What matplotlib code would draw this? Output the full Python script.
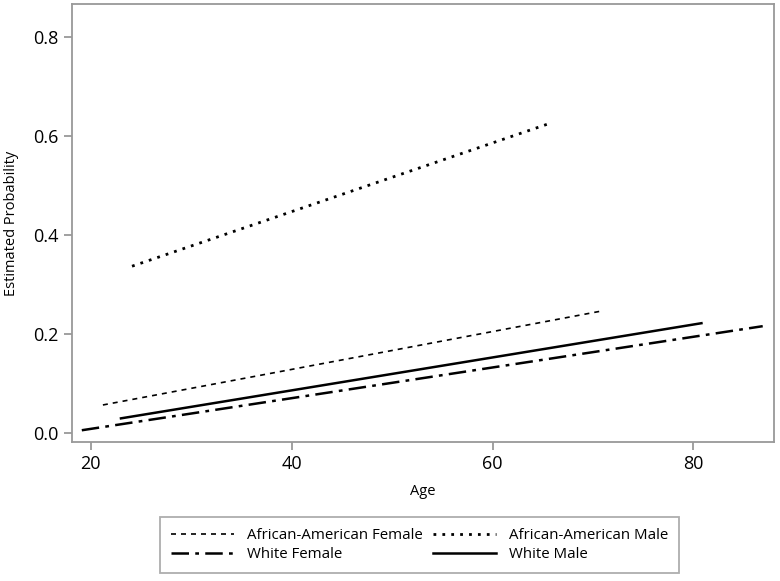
import matplotlib
matplotlib.use("Agg")
import matplotlib.pyplot as plt

# endpoints (age, estimated probability)
aa_female_age = [21.2, 70.7]
aa_female_prob = [0.057, 0.246]
aa_male_age = [24.1, 65.8]
aa_male_prob = [0.337, 0.626]
w_female_age = [19.1, 86.9]
w_female_prob = [0.006, 0.216]
w_male_age = [23.0, 80.8]
w_male_prob = [0.030, 0.222]

plt.rcParams['font.family'] = ['Open Sans', 'DejaVu Sans']

fig = plt.figure(figsize=(7.8, 5.81), dpi=100)
ax = fig.add_axes([0.092, 0.239, 0.9, 0.754])

l1, = ax.plot(aa_female_age, aa_female_prob, color='black', lw=1.2,
              linestyle=(0, (3, 3)), label='African-American Female')
l2, = ax.plot(aa_male_age, aa_male_prob, color='black', lw=2.0,
              linestyle=(0, (1, 2.2)), label='African-American Male')
l3, = ax.plot(w_female_age, w_female_prob, color='black', lw=1.8,
              linestyle=(0, (7, 2.5, 1.5, 2.5)), label='White Female')
l4, = ax.plot(w_male_age, w_male_prob, color='black', lw=1.8,
              linestyle='-', label='White Male')

ax.set_xlim(18.1, 88.0)
ax.set_ylim(-0.018, 0.866)
ax.set_xticks([20, 40, 60, 80])
ax.set_yticks([0.0, 0.2, 0.4, 0.6, 0.8])
ax.set_yticklabels(['0.0', '0.2', '0.4', '0.6', '0.8'])

for s in ax.spines.values():
    s.set_color('#999999')
    s.set_linewidth(1.3)
ax.tick_params(colors='#999999', width=1.3, length=6, labelsize=13,
               labelcolor='black')

ax.set_xlabel('Age', fontsize=10.5, labelpad=8)
ax.set_ylabel('Estimated Probability', fontsize=10.5, labelpad=10)

# column-major fill: rows read AA Female | AA Male, White Female | White Male
leg = fig.legend(handles=[l1, l3, l2, l4], ncol=2, loc='center',
                 bbox_to_anchor=(0.538, 0.062), fontsize=10.8,
                 frameon=True, fancybox=False, handlelength=4.2,
                 handletextpad=0.85, columnspacing=0.7, labelspacing=0.25,
                 borderpad=0.75)
leg.get_frame().set_edgecolor('#999999')
leg.get_frame().set_linewidth(1.3)

fig.savefig('out.png', dpi=100)
